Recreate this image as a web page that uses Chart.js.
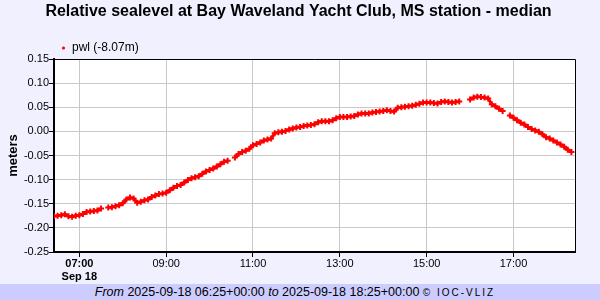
<!DOCTYPE html>
<html>
<head>
<meta charset="utf-8">
<script src="https://cdn.jsdelivr.net/npm/chart.js@4"></script>
<style>
  html, body { margin: 0; padding: 0; background: #f0f0ff; }
  #wrap { width: 600px; height: 284px; position: relative; }
  #foot {
    width: 590px; height: 16px; padding-right: 10px;
    background: #ccccff; color: #000;
    font-family: 'Liberation Sans', Arial, sans-serif; font-size: 12.5px; line-height: 16px;
    text-align: center; white-space: nowrap;
  }
  #foot .c { font-size: 10px; letter-spacing: 2px; }
</style>
</head>
<body>
<div id="wrap"><canvas id="chart"></canvas></div>
<div id="foot"><i>From</i> 2025-09-18 06:25+00:00 <i>to</i> 2025-09-18 18:25+00:00 <span class="c">© IOC-VLIZ</span></div>
<script>
const FONT = "'Liberation Sans', Arial, sans-serif";

// sample times (UTC, 2025-09-18), one every 5 minutes
const times = [
  '06:25','06:30','06:35','06:40','06:45','06:50','06:55',
  '07:00','07:05','07:10','07:15','07:20','07:25','07:30','07:35','07:40','07:45','07:50','07:55',
  '08:00','08:05','08:10','08:15','08:20','08:25','08:30','08:35','08:40','08:45','08:50','08:55',
  '09:00','09:05','09:10','09:15','09:20','09:25','09:30','09:35','09:40','09:45','09:50','09:55',
  '10:00','10:05','10:10','10:15','10:20','10:25','10:30','10:35','10:40','10:45','10:50','10:55',
  '11:00','11:05','11:10','11:15','11:20','11:25','11:30','11:35','11:40','11:45','11:50','11:55',
  '12:00','12:05','12:10','12:15','12:20','12:25','12:30','12:35','12:40','12:45','12:50','12:55',
  '13:00','13:05','13:10','13:15','13:20','13:25','13:30','13:35','13:40','13:45','13:50','13:55',
  '14:00','14:05','14:10','14:15','14:20','14:25','14:30','14:35','14:40','14:45','14:50','14:55',
  '15:00','15:05','15:10','15:15','15:20','15:25','15:30','15:35','15:40','15:45','15:50','15:55',
  '16:00','16:05','16:10','16:15','16:20','16:25','16:30','16:35','16:40','16:45','16:50','16:55',
  '17:00','17:05','17:10','17:15','17:20','17:25','17:30','17:35','17:40','17:45','17:50','17:55',
  '18:00','18:05','18:10','18:15','18:20','18:25'
];

// pwl relative sea level (m), null = no data
const pwl = [
  -0.176,-0.175,-0.174,-0.172,-0.176,-0.177,-0.175,
  -0.174,-0.171,-0.167,-0.166,-0.165,-0.164,-0.160,null,-0.158,-0.157,-0.155,-0.153,
  -0.149,-0.141,-0.137,-0.139,-0.148,-0.146,-0.143,-0.141,-0.136,-0.133,-0.130,-0.129,
  -0.127,-0.122,-0.117,-0.113,-0.111,-0.106,-0.101,-0.097,-0.095,-0.093,-0.088,-0.083,
  -0.080,-0.077,-0.073,-0.068,-0.063,-0.061,null,-0.054,-0.047,-0.043,-0.040,-0.036,
  -0.029,-0.026,-0.023,-0.019,-0.017,-0.015,-0.004,-0.002,-0.001,0.001,0.004,0.006,
  0.008,0.009,0.011,0.012,0.013,0.015,0.019,0.021,0.021,0.021,0.023,0.027,
  0.030,0.030,0.030,0.031,0.032,0.035,0.037,0.037,0.037,0.039,0.040,0.041,
  0.042,0.044,0.042,0.041,0.049,0.050,0.051,0.052,0.053,0.055,0.057,0.060,
  0.060,0.060,0.059,0.058,0.061,0.062,0.061,0.060,0.061,0.062,null,null,
  0.066,0.070,0.072,0.071,0.070,0.068,0.056,0.052,0.047,0.042,null,0.033,
  0.028,0.023,0.018,0.014,0.009,0.005,0.002,-0.001,-0.006,-0.012,-0.015,-0.019,
  -0.023,-0.027,-0.032,-0.038,-0.043,null
];

const tickTimes = ['07:00', '09:00', '11:00', '13:00', '15:00', '17:00'];
const startTime = '06:25';
const endTime = '18:25';
const dayLabel = 'Sep 18';

function toMin(s) {
  return parseInt(s.slice(0, 2), 10) * 60 + parseInt(s.slice(3), 10);
}

const points = times.map((t, i) => ({ x: toMin(t), y: pwl[i] }));

// white plot area + thin frame + legend
const plotFrame = {
  id: 'plotFrame',
  beforeDraw(chart) {
    const a = chart.chartArea, ctx = chart.ctx;
    ctx.save();
    ctx.fillStyle = '#ffffff';
    ctx.fillRect(a.left, a.top, a.right - a.left, a.bottom - a.top);
    ctx.restore();
  },
  afterDraw(chart) {
    const a = chart.chartArea, ctx = chart.ctx;
    ctx.save();
    ctx.strokeStyle = '#000';
    ctx.lineWidth = 1;
    ctx.beginPath();
    ctx.moveTo(a.left, a.top + 0.5);
    ctx.lineTo(a.right + 0.5, a.top + 0.5);
    ctx.lineTo(a.right + 0.5, a.bottom);
    ctx.stroke();
    // legend
    const ds = chart.data.datasets[0];
    ctx.fillStyle = ds.borderColor;
    ctx.beginPath();
    ctx.arc(a.left + 9.5, a.top - 11, 1.6, 0, Math.PI * 2);
    ctx.fill();
    ctx.fillStyle = '#000';
    ctx.font = '12px ' + FONT;
    ctx.textBaseline = 'middle';
    ctx.fillText(ds.label, a.left + 18, a.top - 11);
    ctx.restore();
  }
};

new Chart(document.getElementById('chart'), {
  type: 'line',
  data: {
    datasets: [{
      label: 'pwl (-8.07m)',
      data: points,
      borderColor: '#ff0000',
      backgroundColor: '#ff0000',
      borderWidth: 3,
      pointStyle: 'cross',
      pointRadius: 3,
      pointBorderWidth: 2,
      spanGaps: false,
      tension: 0
    }]
  },
  options: {
    responsive: true,
    maintainAspectRatio: false,
    devicePixelRatio: 1,
    animation: false,
    layout: { padding: { left: 0, right: 3, top: 0, bottom: 0 } },
    plugins: {
      legend: { display: false },
      tooltip: { enabled: false },
      title: {
        display: true,
        text: 'Relative sealevel at Bay Waveland Yacht Club, MS station - median',
        color: '#000',
        font: { family: FONT, size: 16, weight: 'bold' },
        padding: { top: 2, bottom: 37.8 }
      }
    },
    scales: {
      x: {
        type: 'linear',
        min: toMin(startTime),
        max: toMin(endTime),
        afterBuildTicks: axis => {
          axis.ticks = tickTimes.map(t => ({ value: toMin(t) }));
        },
        afterFit: scale => { scale.height = 32; },
        ticks: {
          autoSkip: false,
          maxRotation: 0,
          padding: 0,
          color: '#000',
          font: ctx => ({ family: FONT, size: 11, weight: ctx.index === 0 ? 'bold' : 'normal', lineHeight: 1.2 }),
          callback: (value, index) => index === 0 ? [tickTimes[0], dayLabel] : tickTimes[index]
        },
        grid: { color: '#c8c8c8', tickColor: '#000', tickLength: 5 },
        border: { display: true, color: '#000', width: 2 }
      },
      y: {
        min: -0.25,
        max: 0.15,
        afterFit: scale => { scale.width = 54; },
        ticks: {
          stepSize: 0.05,
          padding: 0,
          color: '#000',
          font: { family: FONT, size: 11 },
          callback: v => Math.abs(v) < 1e-9 ? '0.00' : v.toFixed(2)
        },
        grid: { color: '#c8c8c8', tickColor: '#000', tickLength: 5 },
        border: { display: true, color: '#000', width: 2 },
        title: {
          display: true,
          text: 'meters',
          color: '#000',
          font: { family: FONT, size: 13, weight: 'bold' },
          padding: { top: 5.5, bottom: 0 }
        }
      },
      // empty right-hand margin so the plot ends where the reference does
      yRight: {
        position: 'right',
        display: true,
        afterFit: scale => { scale.width = 22; },
        ticks: { display: false },
        grid: { display: false },
        border: { display: false }
      }
    }
  },
  plugins: [plotFrame]
});
</script>
</body>
</html>
